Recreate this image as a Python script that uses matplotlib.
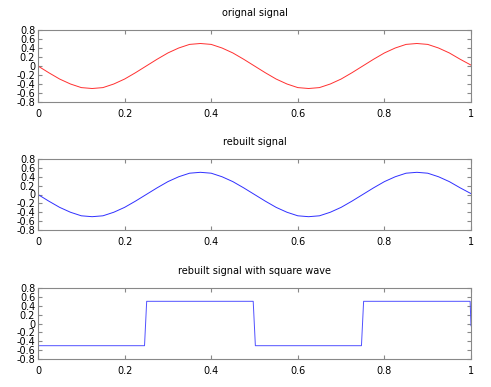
import numpy as np
import matplotlib
matplotlib.use("Agg")
import matplotlib.pyplot as plt

# sample points (step 0.025)
t = [0.0, 0.025, 0.05, 0.075, 0.1, 0.125, 0.15, 0.175, 0.2, 0.225,
     0.25, 0.275, 0.3, 0.325, 0.35, 0.375, 0.4, 0.425, 0.45, 0.475,
     0.5, 0.525, 0.55, 0.575, 0.6, 0.625, 0.65, 0.675, 0.7, 0.725,
     0.75, 0.775, 0.8, 0.825, 0.85, 0.875, 0.9, 0.925, 0.95, 0.975, 1.0]
orig = [0.0, -0.15, -0.29, -0.40, -0.48, -0.50, -0.48, -0.40, -0.29, -0.15,
        0.0, 0.15, 0.29, 0.40, 0.48, 0.50, 0.48, 0.40, 0.29, 0.15,
        0.0, -0.15, -0.29, -0.40, -0.48, -0.50, -0.48, -0.40, -0.29, -0.15,
        0.0, 0.15, 0.29, 0.40, 0.48, 0.50, 0.48, 0.40, 0.29, 0.15, 0.02]
rebuilt = [0.0, -0.15, -0.29, -0.40, -0.48, -0.50, -0.48, -0.40, -0.29, -0.15,
           0.0, 0.15, 0.29, 0.40, 0.48, 0.50, 0.48, 0.40, 0.29, 0.15,
           0.0, -0.15, -0.29, -0.40, -0.48, -0.50, -0.48, -0.40, -0.29, -0.15,
           0.0, 0.15, 0.29, 0.40, 0.48, 0.50, 0.48, 0.40, 0.29, 0.15, 0.02]

# square wave corners
t_sq = [0.0, 0.246, 0.251, 0.497, 0.502, 0.747, 0.752, 0.998, 1.0]
sq = [-0.5, -0.5, 0.5, 0.5, -0.5, -0.5, 0.5, 0.5, -0.05]

titles = ["orignal signal", "rebuilt signal", "rebuilt signal with square wave"]
xticks = [0, 0.2, 0.4, 0.6, 0.8, 1]
xlabels = ["0", "0.2", "0.4", "0.6", "0.8", "1"]
yticks = [-0.8, -0.6, -0.4, -0.2, 0, 0.2, 0.4, 0.6, 0.8]
ylabels = ["-0.8", "-0.6", "-0.4", "-0.2", "0", "0.2", "0.4", "0.6", "0.8"]

fig = plt.figure(figsize=(4.91, 3.87), dpi=100)
boxes = [(38, 30, 102), (38, 159, 230), (38, 288, 359)]
series = [(t, orig, "#ff3030"), (t, rebuilt, "#3030ff"), (t_sq, sq, "#5050ff")]

for (l, top, bot), (x, y, c), ttl in zip(boxes, series, titles):
    ax = fig.add_axes([l / 491, 1 - bot / 387, (471 - l) / 491, (bot - top) / 387])
    ax.plot(x, y, color=c, lw=0.7)
    ax.set_xlim(0, 1)
    ax.set_ylim(-0.8, 0.8)
    ax.set_xticks(xticks)
    ax.set_xticklabels(xlabels)
    ax.set_yticks(yticks)
    ax.set_yticklabels(ylabels)
    ax.tick_params(direction="in", length=3, width=0.8, color="#888888",
                   labelsize=7, pad=2, top=True, right=True)
    ax.tick_params(axis="x", pad=5)
    for s in ax.spines.values():
        s.set_color("#888888")
        s.set_linewidth(0.8)
    ax.set_title(ttl, fontsize=7, pad=10)

plt.savefig("out.png", dpi=100)
